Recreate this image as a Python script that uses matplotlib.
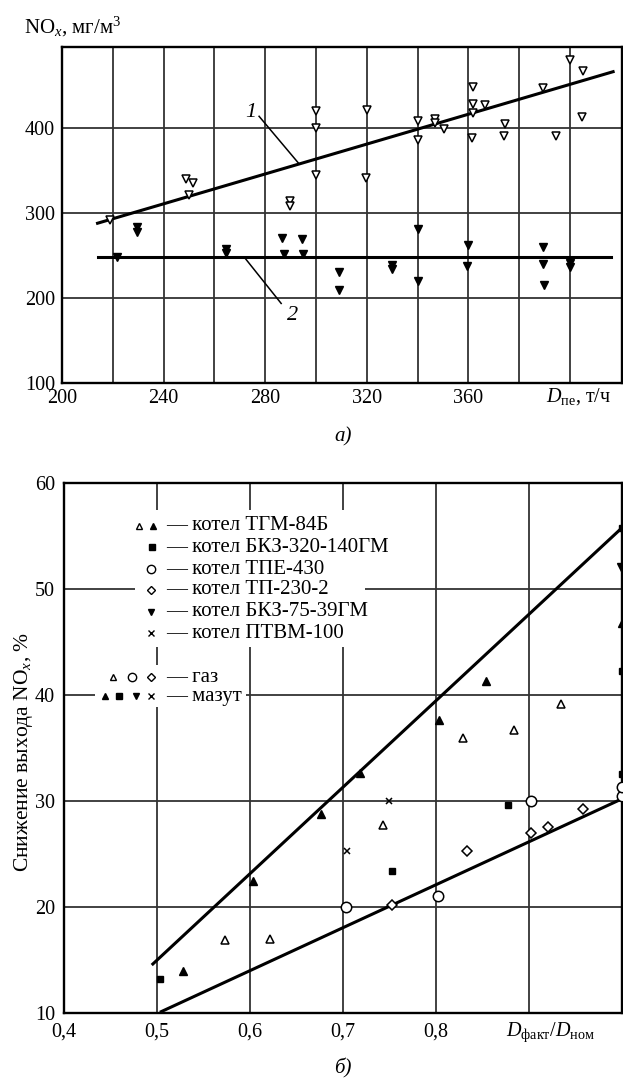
import matplotlib
matplotlib.use('Agg')
import matplotlib.pyplot as plt
from matplotlib.patches import Rectangle

plt.rcParams['font.family'] = ['Liberation Serif', 'DejaVu Serif']
plt.rcParams['mathtext.fontset'] = 'custom'
plt.rcParams['mathtext.rm'] = 'Liberation Serif'
plt.rcParams['mathtext.it'] = 'Liberation Serif:italic'
plt.rcParams['font.size'] = 14

W, H = 623, 1081

# ---- panel a) : NOx vs steam output ----
open_x = [219, 249, 251.5, 250, 289.7, 289.7, 300, 300, 300, 320, 319.6, 340, 340,
          347, 347, 350.5, 361.8, 361.8, 366.6, 361.8, 361.4, 374.4, 374, 389.5,
          394.4, 400, 405, 404.6]
open_y = [292, 339.5, 335.5, 321, 314, 308, 420, 400, 344.5, 421.5, 341.5, 408,
          385.5, 411, 406, 399, 448, 428.5, 426.6, 418, 388, 405, 391, 447, 391,
          480, 467, 413]
filled_x = [221.6, 229.5, 229.5, 264.6, 264.6, 286.5, 294.4, 287.3, 294.8, 309.2,
            309.2, 329.9, 329.9, 340, 340, 360, 359.6, 389.4, 389.4, 389.7, 400, 400]
filled_y = [248.6, 283, 278, 258, 253.5, 271, 270, 251.5, 251.5, 231, 210, 238.6,
            234, 281.5, 220.5, 262.5, 238, 260, 240.5, 216, 241.5, 237]
line1_x = [214, 417]
line1_y = [288, 466]
line2_x = [214, 416]
line2_y = [248, 248]

# ---- panel b) : NOx reduction vs relative load ----
tgm_gas_x = [0.574, 0.622, 0.743, 0.829, 0.884, 0.934]
tgm_gas_y = [16.9, 17.0, 27.7, 35.9, 36.7, 39.2]
tgm_oil_x = [0.528, 0.604, 0.677, 0.719, 0.803, 0.854, 1.0]
tgm_oil_y = [13.9, 22.4, 28.8, 32.6, 37.6, 41.3, 46.8]
bkz320_x = [0.504, 0.753, 0.877, 1.0, 1.0, 1.0]
bkz320_y = [13.2, 23.4, 29.6, 32.5, 42.3, 55.8]
tpe_x = [0.703, 0.802, 0.902, 1.0, 1.0]
tpe_y = [20.0, 21.0, 30.0, 30.5, 31.3]
tp230_x = [0.753, 0.833, 0.902, 0.920, 0.958]
tp230_y = [20.2, 25.3, 27.0, 27.5, 29.2]
bkz75_x = [1.0]
bkz75_y = [52.0]
ptvm_x = [0.705, 0.750]
ptvm_y = [25.3, 30.0]
upper_x = [0.496, 1.0]
upper_y = [14.6, 55.8]
lower_x = [0.505, 1.0]
lower_y = [10.1, 30.2]


def fx(px):
    return px / W


def fy(py):
    return 1 - py / H


fig = plt.figure(figsize=(W / 100, H / 100), dpi=100)
grid_kw = dict(color='#333333', linewidth=1.3)

# ---------------- top panel ----------------
ax1 = fig.add_axes([fx(62), fy(383.3), 560 / W, 336.3 / H])
ax1.set_xlim(200, 420.5)
ax1.set_ylim(100, 495)
ax1.set_xticks(range(200, 401, 20))
ax1.set_xticklabels([str(v) if v % 40 == 0 and v < 400 else '' for v in range(200, 401, 20)])
ax1.set_yticks([100, 200, 300, 400])
ax1.tick_params(length=0, labelsize=14.5)
ax1.tick_params(axis='y', pad=5)
ax1.tick_params(axis='x', pad=4)
ax1.set_axisbelow(True)
ax1.grid(True, **grid_kw)
for s in ax1.spines.values():
    s.set_linewidth(1.7)

ax1.plot(line1_x, line1_y, color='black', lw=2.2, zorder=3)
ax1.plot(line2_x, line2_y, color='black', lw=2.2, zorder=3)
ax1.plot(open_x, open_y, 'v', ms=6.3, mfc='white', mec='black', mew=1.1, ls='none', zorder=4)
ax1.plot(filled_x, filled_y, 'v', ms=6.3, color='black', ls='none', zorder=4)

ax1.plot([277.6, 293], [413.6, 359], color='black', lw=1.1, zorder=3)
ax1.text(274.5, 417.6, '1', style='italic', fontsize=16, ha='center', va='center')
ax1.plot([272.2, 286.3], [246.5, 193.8], color='black', lw=1.1, zorder=3)
ax1.text(290.7, 180, '2', style='italic', fontsize=16, ha='center', va='center')

fig.text(fx(24), fy(33), r'NO$_x$, мг/м$^3$', fontsize=15, va='baseline', ha='left')
fig.text(fx(546), fy(402), r'$D_{\mathrm{пе}}$, т/ч', fontsize=14.5, va='baseline', ha='left')
fig.text(fx(343), fy(437), 'а)', style='italic', fontsize=15, ha='center', va='center')

# ---------------- bottom panel ----------------
ax2 = fig.add_axes([fx(63.5), fy(1012.7), 558.5 / W, 529.4 / H])
ax2.set_xlim(0.4, 1.0)
ax2.set_ylim(10, 60)
xt = [0.4, 0.5, 0.6, 0.7, 0.8, 0.9]
ax2.set_xticks(xt)
ax2.set_xticklabels(['0,4', '0,5', '0,6', '0,7', '0,8', ''])
ax2.set_yticks([10, 20, 30, 40, 50, 60])
ax2.tick_params(length=0, labelsize=14.5)
ax2.tick_params(axis='y', pad=6)
ax2.tick_params(axis='x', pad=7)
ax2.set_axisbelow(True)
ax2.grid(True, **grid_kw)
for s in ax2.spines.values():
    s.set_linewidth(1.7)

ax2.plot(upper_x, upper_y, color='black', lw=2.2, zorder=3)
ax2.plot(lower_x, lower_y, color='black', lw=2.2, zorder=3)
ax2.plot(tgm_gas_x, tgm_gas_y, '^', ms=5.5, mfc='white', mec='black', mew=1.1, ls='none', zorder=4)
ax2.plot(tgm_oil_x, tgm_oil_y, '^', ms=6, color='black', ls='none', zorder=4)
ax2.plot(bkz320_x, bkz320_y, 's', ms=5, color='black', ls='none', zorder=4)
ax2.plot(tpe_x, tpe_y, 'o', ms=7.5, mfc='white', mec='black', mew=1.1, ls='none', zorder=4)
ax2.plot(tp230_x, tp230_y, 'D', ms=5.5, mfc='white', mec='black', mew=1.1, ls='none', zorder=4)
ax2.plot(bkz75_x, bkz75_y, 'v', ms=6.5, color='black', ls='none', zorder=4)
ax2.plot(ptvm_x, ptvm_y, 'x', ms=5, color='black', mew=1.1, ls='none', zorder=4)

# legend block (white background hides the grid)
for (x0, y0, x1, y1) in [(135, 510, 365, 647), (95, 665, 246, 707)]:
    ax2.add_patch(Rectangle((fx(x0), fy(y1)), fx(x1) - fx(x0), fy(y0) - fy(y1),
                            transform=fig.transFigure, facecolor='white',
                            edgecolor='none', zorder=2))

rows = [
    (526, '— котел ТГМ-84Б', [(139, '^', 'w'), (153, '^', 'k')]),
    (547, '— котел БКЗ-320-140ГМ', [(152, 's', 'k')]),
    (569, '— котел ТПЕ-430', [(151, 'o', 'w')]),
    (590, '— котел ТП-230-2', [(151, 'D', 'w')]),
    (612, '— котел БКЗ-75-39ГМ', [(151, 'v', 'k')]),
    (633, '— котел ПТВМ-100', [(151, 'x', 'k')]),
    (677, '— газ', [(113, '^', 'w'), (132, 'o', 'w'), (151, 'D', 'w')]),
    (696, '— мазут', [(105, '^', 'k'), (119, 's', 'k'), (136, 'v', 'k'), (151, 'x', 'k')]),
]
sizes = {'^': 5, 's': 4.5, 'o': 6, 'D': 4.5, 'v': 5, 'x': 4.5}
for py, label, marks in rows:
    fig.text(fx(166), fy(py), label, fontsize=15, ha='left', va='center', zorder=5)
    for px, m, c in marks:
        if c == 'w':
            ax2.plot([fx(px)], [fy(py)], m, ms=sizes[m], mfc='white', mec='black', mew=1.0,
                     transform=fig.transFigure, clip_on=False, zorder=5)
        else:
            ax2.plot([fx(px)], [fy(py)], m, ms=sizes[m], color='black', mew=1.0,
                     transform=fig.transFigure, clip_on=False, zorder=5)

fig.text(fx(24), fy(632), r'Снижение выхода NO$_x$, %', rotation=90, fontsize=15.5,
         ha='center', va='top')
fig.text(fx(506), fy(1036), r'$D_{\mathrm{факт}}/D_{\mathrm{ном}}$', fontsize=14.5,
         ha='left', va='baseline')
fig.text(fx(343), fy(1068), 'б)', style='italic', fontsize=15, ha='center', va='center')

fig.savefig('out.png', dpi=100)
